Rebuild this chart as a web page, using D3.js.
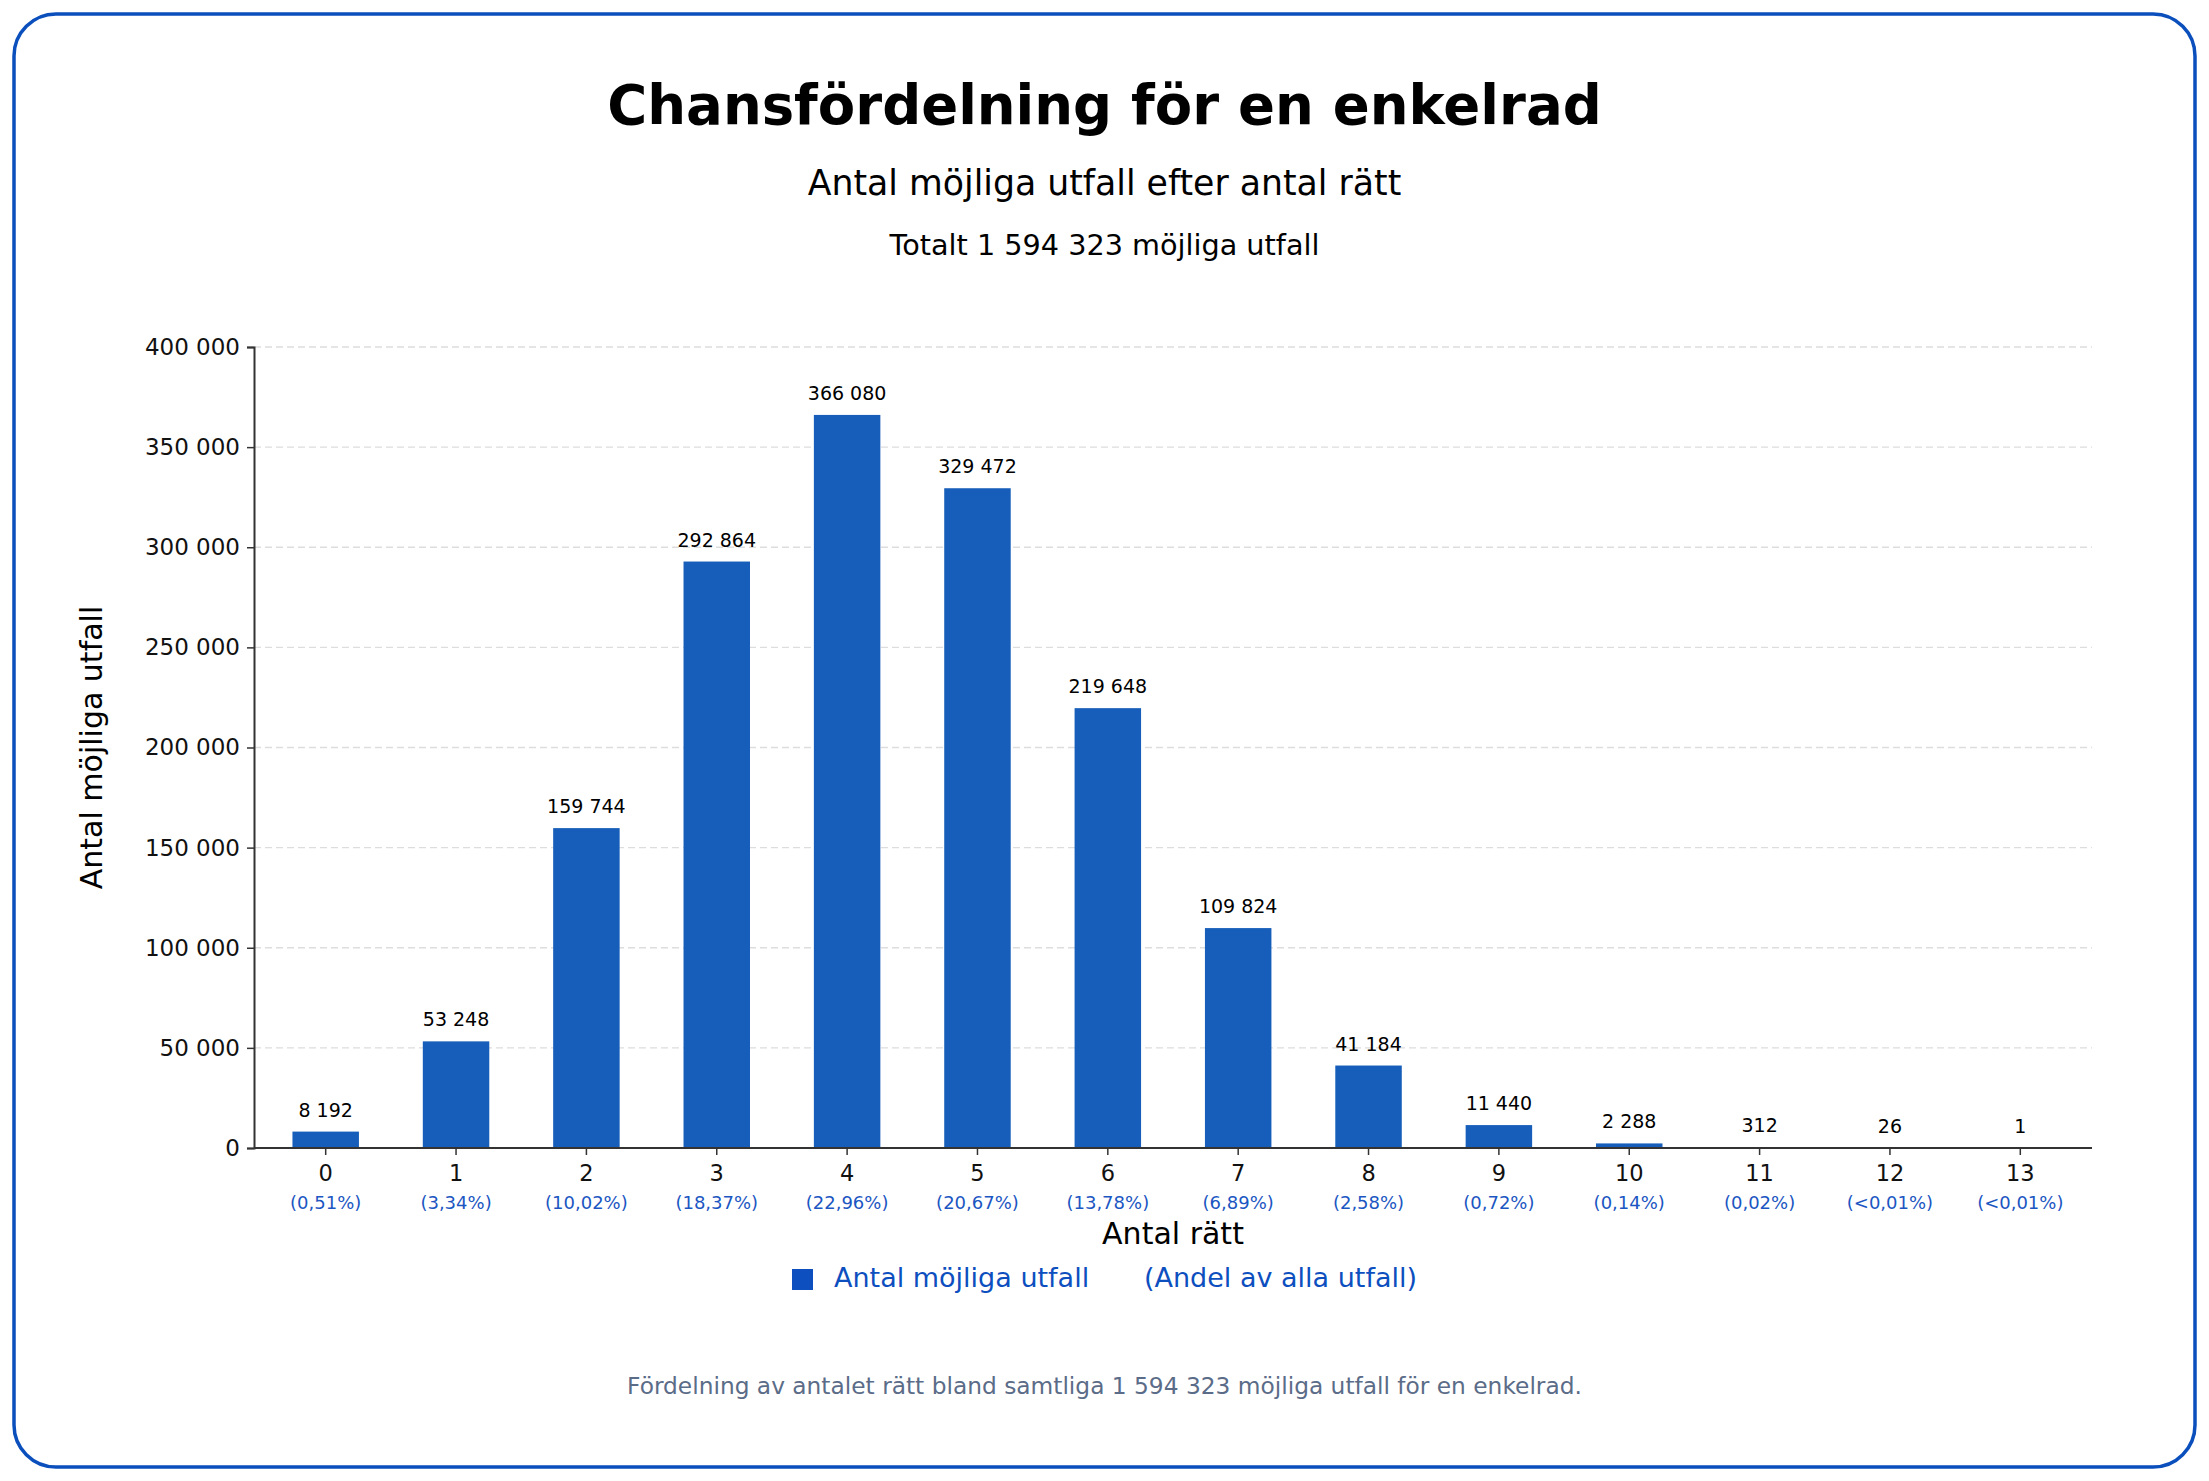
<!DOCTYPE html>
<html>
<head>
<meta charset="utf-8">
<script src="https://cdn.jsdelivr.net/npm/d3@7"></script>
<style>
  html, body { margin: 0; padding: 0; background: #fff; }
  svg { display: block; font-family: "DejaVu Sans", sans-serif; }
</style>
</head>
<body>
<div id="chart"></div>
<script>
// data
const categories = ["0","1","2","3","4","5","6","7","8","9","10","11","12","13"];
const outcomes = [8192, 53248, 159744, 292864, 366080, 329472, 219648, 109824, 41184, 11440, 2288, 312, 26, 1];
const shares = ["(0,51%)","(3,34%)","(10,02%)","(18,37%)","(22,96%)","(20,67%)","(13,78%)","(6,89%)","(2,58%)","(0,72%)","(0,14%)","(0,02%)","(<0,01%)","(<0,01%)"];
const yTicks = [0, 50000, 100000, 150000, 200000, 250000, 300000, 350000, 400000];

const W = 2209, H = 1481;
const m = { left: 254, right: 2092, top: 347, bottom: 1148 };

const fmt = d3.formatLocale({ decimal: ",", thousands: " ", grouping: [3], currency: ["", " kr"] }).format(",d");

const svg = d3.select("#chart").append("svg")
  .attr("width", W).attr("height", H);

// frame
svg.append("rect")
  .attr("x", 14).attr("y", 14)
  .attr("width", W - 28).attr("height", H - 28)
  .attr("rx", 42).attr("ry", 42)
  .attr("fill", "#fff")
  .attr("stroke", "#0b4fbd").attr("stroke-width", 3.5);

// titles
svg.append("text").attr("x", W / 2).attr("y", 124)
  .attr("text-anchor", "middle").style("font-size", "54.5px").style("font-weight", "bold")
  .attr("fill", "#000").text("Chansfördelning för en enkelrad");
svg.append("text").attr("x", W / 2).attr("y", 195)
  .attr("text-anchor", "middle").style("font-size", "34.7px")
  .attr("fill", "#000").text("Antal möjliga utfall efter antal rätt");
svg.append("text").attr("x", W / 2).attr("y", 255)
  .attr("text-anchor", "middle").style("font-size", "28.7px")
  .attr("fill", "#000").text("Totalt 1 594 323 möjliga utfall");

// scales
const x = d3.scaleBand()
  .domain(categories)
  .range([m.left, m.right])
  .paddingInner(0.49)
  .paddingOuter(0.295);

const y = d3.scaleLinear()
  .domain([0, 400000])
  .range([m.bottom, m.top]);

// grid
svg.append("g").selectAll("line")
  .data(yTicks.filter(d => d > 0))
  .enter().append("line")
  .attr("x1", m.left).attr("x2", m.right)
  .attr("y1", d => y(d)).attr("y2", d => y(d))
  .attr("stroke", "#dddddd").attr("stroke-width", 1.3)
  .attr("stroke-dasharray", "7,4");

// bars
svg.append("g").selectAll("rect")
  .data(outcomes)
  .enter().append("rect")
  .attr("x", (d, i) => x(categories[i]))
  .attr("y", d => y(d))
  .attr("width", x.bandwidth())
  .attr("height", d => y(0) - y(d))
  .attr("fill", "#165eb9");

// value labels
svg.append("g").selectAll("text")
  .data(outcomes)
  .enter().append("text")
  .attr("x", (d, i) => x(categories[i]) + x.bandwidth() / 2)
  .attr("y", d => y(d) - 15)
  .attr("text-anchor", "middle")
  .style("font-size", "19px")
  .attr("fill", "#000")
  .text(d => fmt(d));

// y axis
const yAxis = svg.append("g")
  .attr("transform", `translate(${m.left},0)`)
  .call(d3.axisLeft(y).tickValues(yTicks).tickFormat(fmt).tickSize(7).tickPadding(7));
yAxis.select(".domain").attr("stroke", "#333").attr("stroke-width", 2);
yAxis.selectAll(".tick line").attr("stroke", "#333").attr("stroke-width", 1.5);
yAxis.selectAll(".tick text").style("font-size", "23px").attr("fill", "#111")
  .style("font-family", "DejaVu Sans");

// x axis
const xAxis = svg.append("g")
  .attr("transform", `translate(0,${m.bottom})`)
  .call(d3.axisBottom(x).tickSize(7).tickPadding(10).tickSizeOuter(0));
xAxis.select(".domain").attr("stroke", "#333").attr("stroke-width", 2)
  .attr("d", `M${m.left},0H${m.right}`);
xAxis.selectAll(".tick line").attr("stroke", "#333").attr("stroke-width", 1.5);
xAxis.selectAll(".tick text").style("font-size", "22.5px").attr("fill", "#111")
  .style("font-family", "DejaVu Sans");

// share labels under ticks
svg.append("g").selectAll("text")
  .data(shares)
  .enter().append("text")
  .attr("x", (d, i) => x(categories[i]) + x.bandwidth() / 2)
  .attr("y", 1209)
  .attr("text-anchor", "middle")
  .style("font-size", "18px")
  .attr("fill", "#1b56c2")
  .text(d => d);

// axis titles
svg.append("text")
  .attr("x", (m.left + m.right) / 2).attr("y", 1244)
  .attr("text-anchor", "middle").style("font-size", "30px")
  .attr("fill", "#000").text("Antal rätt");
svg.append("text")
  .attr("transform", `translate(102,${(m.top + m.bottom) / 2}) rotate(-90)`)
  .attr("text-anchor", "middle").style("font-size", "30px")
  .attr("fill", "#000").text("Antal möjliga utfall");

// legend
const lg = svg.append("g");
lg.append("rect").attr("x", 792).attr("y", 1269).attr("width", 21).attr("height", 21)
  .attr("fill", "#0d4fbf");
lg.append("text").attr("x", 834).attr("y", 1287)
  .style("font-size", "27px").attr("fill", "#0d4fbf").text("Antal möjliga utfall");
lg.append("text").attr("x", 1144).attr("y", 1287)
  .style("font-size", "27px").attr("fill", "#0d4fbf").text("(Andel av alla utfall)");

// footnote
svg.append("text").attr("x", W / 2).attr("y", 1394)
  .attr("text-anchor", "middle").style("font-size", "23.3px")
  .attr("fill", "#5b6c88")
  .text("Fördelning av antalet rätt bland samtliga 1 594 323 möjliga utfall för en enkelrad.");
</script>
</body>
</html>
